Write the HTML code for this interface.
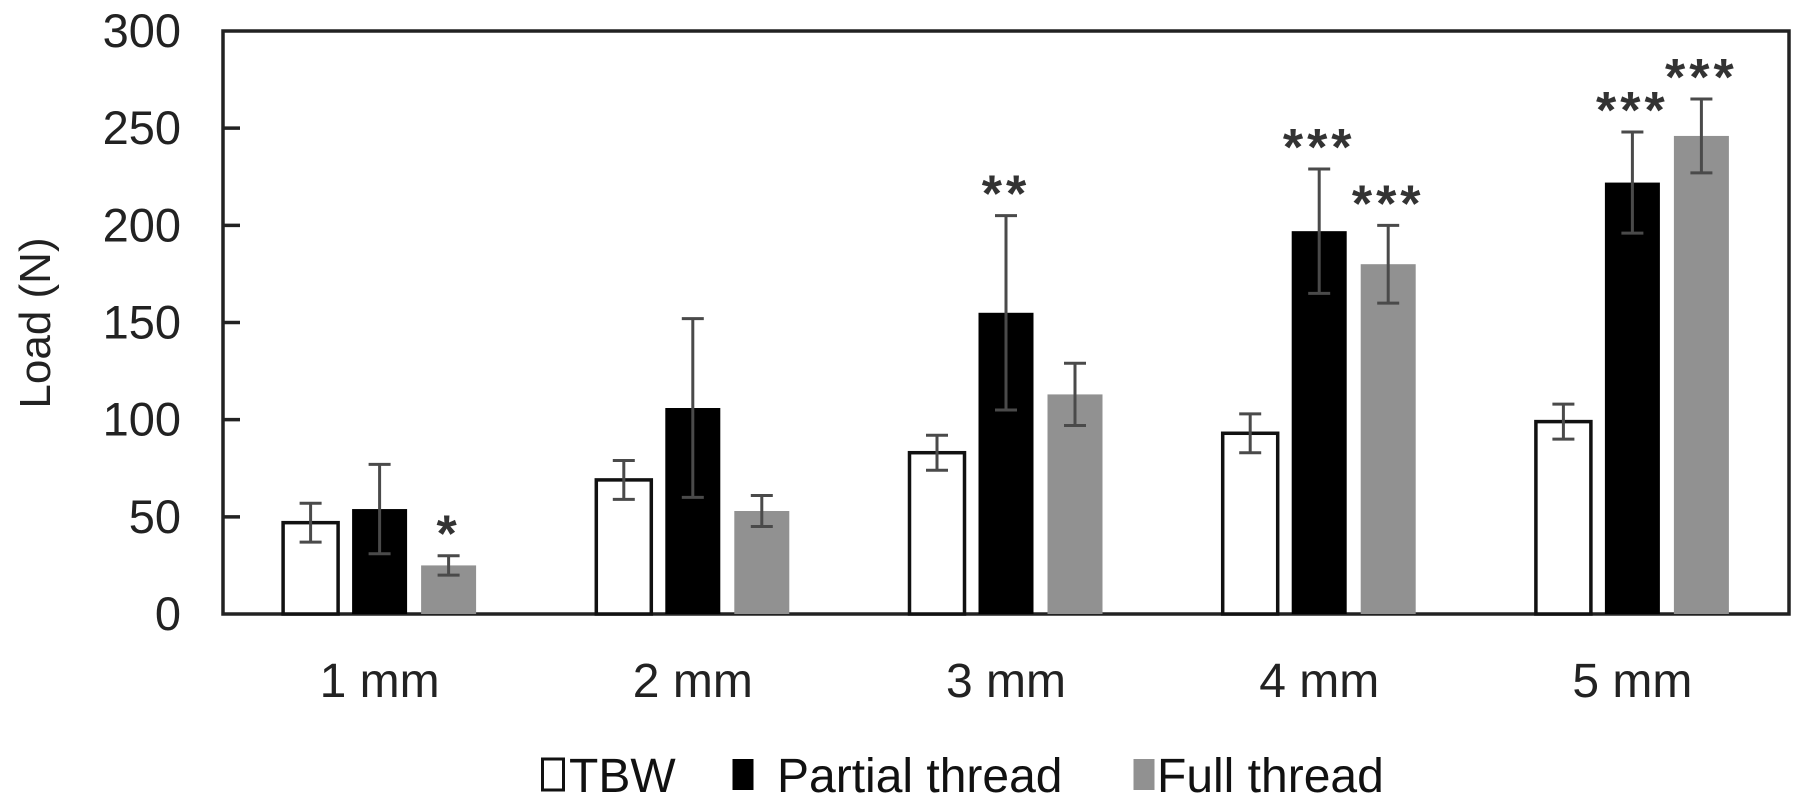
<!DOCTYPE html>
<html><head><meta charset="utf-8"><style>
html,body{margin:0;padding:0;background:#fff;}
svg{display:block;font-family:"Liberation Sans",Arial,sans-serif;}
</style></head><body>
<svg id="chart" width="1795" height="808" viewBox="0 0 1795 808"></svg>
<script>
const categories = ["1 mm","2 mm","3 mm","4 mm","5 mm"];
const seriesNames = ["TBW","Partial thread","Full thread"];
const tbwValues = [47,69,83,93,99];
const tbwErrors = [10,10,9,10,9];
const partialValues = [54,106,155,197,222];
const partialErrors = [23,46,50,32,26];
const fullValues = [25,53,113,180,246];
const fullErrors = [5,8,16,20,19];
const partialStars = ["","","**","***","***"];
const fullStars = ["*","","","***","***"];
const yTicks = [0,50,100,150,200,250,300];

const NS = "http://www.w3.org/2000/svg";
const svg = document.getElementById("chart");
const L = 223, R = 1789, T = 31, B = 614, YMAX = 300;
const y = v => B - v * (B - T) / YMAX;
const band = (R - L) / categories.length;
const xc = i => L + band * (i + 0.5);
const barW = 55, step = 69;
function mk(tag, attrs, parent) {
  const e = document.createElementNS(NS, tag);
  for (const k in attrs) e.setAttribute(k, attrs[k]);
  (parent || svg).appendChild(e);
  return e;
}
const frame = mk("rect", {x:L, y:T, width:R-L, height:B-T, fill:"none", stroke:"#222", "stroke-width":3.5});


yTicks.forEach(t => {
  if (t > 0 && t < YMAX) {
    const tk = mk("line", {x1:L, x2:L+17, y1:y(t), y2:y(t), stroke:"#222", "stroke-width":3.5});
    
    
  }
  const lb = mk("text", {x:181, y:y(t)+16, "text-anchor":"end", "font-size":47, fill:"#222"});
  lb.textContent = t;
  
  
});
const yt = mk("text", {x:0, y:0, transform:"translate(50,323) rotate(-90)", "text-anchor":"middle", "font-size":44, fill:"#222"});
yt.textContent = "Load (N)";



const series = [
  {vals:tbwValues, errs:tbwErrors, stars:null, fill:"#fff", stroke:"#111"},
  {vals:partialValues, errs:partialErrors, stars:partialStars, fill:"#000", stroke:"none"},
  {vals:fullValues, errs:fullErrors, stars:fullStars, fill:"#919191", stroke:"none"}
];
categories.forEach((c, i) => {
  series.forEach((s, j) => {
    const cx = xc(i) + (j - 1) * step;
    const v = s.vals[i];
    const bar = mk("rect", {x:cx-barW/2, y:y(v), width:barW, height:B-y(v), fill:s.fill,
      stroke:s.stroke, "stroke-width":s.stroke==="none"?0:3.5});
    
    
    const e = s.errs[i];
    const g = mk("g", {stroke:"#4a4a4a", "stroke-width":3});
    
    
    mk("line", {x1:cx, x2:cx, y1:y(v+e), y2:y(v-e)}, g);
    mk("line", {x1:cx-11, x2:cx+11, y1:y(v+e), y2:y(v+e)}, g);
    mk("line", {x1:cx-11, x2:cx+11, y1:y(v-e), y2:y(v-e)}, g);
    if (s.stars && s.stars[i]) {
      const st = mk("text", {x:cx, y:y(v+e)-4, "text-anchor":"middle", "font-size":52, "font-weight":"bold", fill:"#333", "letter-spacing":4});
      st.textContent = s.stars[i];
      
      
    }
  });
  const cl = mk("text", {x:xc(i), y:697, "text-anchor":"middle", "font-size":48, fill:"#222"});
  cl.textContent = c;
  
  
});
const legendX = [[541,569],[731,777],[1132,1157]];
seriesNames.forEach((n, j) => {
  const s = series[j];
  const g = mk("g", {});
  
  
  mk("rect", {x:legendX[j][0]+1.5, y:759, width:21, height:31, fill:s.fill, stroke:j===0?"#111":"none", "stroke-width":3}, g);
  const t = mk("text", {x:legendX[j][1], y:792, "font-size":48, fill:"#111"}, g);
  t.textContent = n;
});
</script>
</body></html>
